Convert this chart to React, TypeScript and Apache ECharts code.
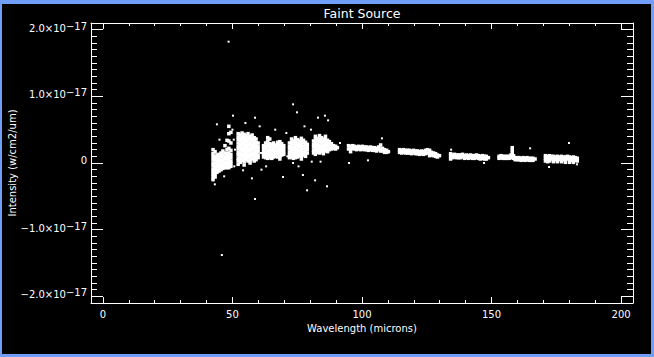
import React, { useEffect, useRef } from "react";
import * as echarts from "echarts";

// Wavelength axis (microns) and intensity axis (units of 1e-17 W/cm2/um)
const X_MIN = -4.6;
const X_MAX = 204.6;
const Y_MIN = -2.1;
const Y_MAX = 2.1;

// Tick layout
const X_TICK_MIN = 0;
const X_TICK_MAX = 200;
const X_TICK_STEP = 50;
const X_MINOR_SPLIT = 5;
const Y_TICK_MIN = -2;
const Y_TICK_MAX = 2;
const Y_TICK_STEP = 1;
const Y_MINOR_SPLIT = 10;

type Col = [number, number[]];

// Detector band columns: [wavelength, intensities at that wavelength]
const bandA: Col[] = [
  [42.5, [0.2, 0.14, 0.1, 0.05, 0.0, -0.04, -0.09, -0.13, -0.17, -0.21, -0.25]],
  [43.3, [0.17, 0.09, 0.05, 0.0, -0.05, -0.09, -0.13, -0.17, -0.21]],
  [44.0, [0.12, 0.07, 0.03, -0.02, -0.06, -0.1, -0.14]],
  [44.8, [0.13, 0.08, 0.04, -0.01, -0.05, -0.09, -0.12]],
  [45.6, [0.15, 0.11, 0.06, 0.02, -0.03, -0.07, -0.1]],
  [46.3, [0.18, 0.12, 0.08, 0.04, -0.01, -0.05, -0.08]],
  [47.1, [0.26, 0.15, 0.1, 0.06, 0.01, -0.03, -0.07]],
  [47.9, [0.34, 0.2, 0.14, 0.09, 0.05, 0.0, -0.04, -0.07]],
  [48.6, [0.55, 0.44, 0.33, 0.22, 0.15, 0.1, 0.05, 0.01, -0.04, -0.07]],
  [49.4, [0.46, 0.3, 0.19, 0.13, 0.08, 0.03, -0.01, -0.05]],
];
const bandB: Col[] = [
  [52.2, [0.44, 0.39, 0.35, 0.3, 0.25, 0.21, 0.16, 0.12, 0.07, 0.03, -0.02]],
  [53.0, [0.42, 0.37, 0.33, 0.28, 0.24, 0.2, 0.15, 0.11, 0.06, 0.01]],
  [53.7, [0.45, 0.4, 0.36, 0.31, 0.27, 0.22, 0.18, 0.13, 0.09, 0.04]],
  [54.5, [0.43, 0.38, 0.34, 0.29, 0.25, 0.2, 0.16, 0.11, 0.07, 0.02, -0.03]],
  [55.3, [0.41, 0.36, 0.32, 0.27, 0.23, 0.19, 0.14, 0.1, 0.05]],
  [56.0, [0.44, 0.39, 0.35, 0.3, 0.26, 0.21, 0.17, 0.12, 0.08, 0.03]],
  [56.8, [0.4, 0.36, 0.31, 0.27, 0.22, 0.18, 0.13, 0.09, 0.04, 0.0]],
  [57.6, [0.42, 0.37, 0.33, 0.28, 0.24, 0.2, 0.15, 0.11, 0.06]],
  [58.4, [0.38, 0.34, 0.29, 0.25, 0.21, 0.16, 0.12, 0.07, 0.03]],
  [59.1, [0.36, 0.31, 0.27, 0.23, 0.18, 0.14, 0.1, 0.05]],
  [59.9, [0.3, 0.25, 0.21, 0.17, 0.12, 0.08]],
];
const bandC: Col[] = [
  [62.0, [0.26, 0.22, 0.17, 0.13, 0.09]],
  [62.8, [0.3, 0.25, 0.21, 0.16, 0.12, 0.08]],
  [63.6, [0.38, 0.33, 0.28, 0.24, 0.19, 0.15, 0.11, 0.07]],
  [64.4, [0.36, 0.29, 0.25, 0.2, 0.16, 0.12, 0.08]],
  [65.2, [0.28, 0.24, 0.19, 0.15, 0.11, 0.07]],
  [65.9, [0.3, 0.26, 0.21, 0.17, 0.13, 0.09]],
  [66.7, [0.27, 0.23, 0.18, 0.14, 0.1]],
  [67.5, [0.31, 0.27, 0.22, 0.18, 0.14, 0.09]],
  [68.3, [0.32, 0.28, 0.23, 0.19, 0.15, 0.1, 0.06]],
  [69.0, [0.29, 0.25, 0.2, 0.16, 0.12]],
  [69.8, [0.26, 0.22, 0.17, 0.13]],
];
const bandD: Col[] = [
  [72.0, [0.3, 0.25, 0.21, 0.16, 0.12, 0.08]],
  [72.8, [0.36, 0.31, 0.27, 0.22, 0.18, 0.14, 0.09]],
  [73.5, [0.33, 0.29, 0.24, 0.2, 0.15, 0.11, 0.07]],
  [74.3, [0.38, 0.34, 0.29, 0.25, 0.2, 0.16, 0.12, 0.08]],
  [75.1, [0.35, 0.3, 0.26, 0.21, 0.17, 0.13, 0.09]],
  [75.8, [0.33, 0.28, 0.24, 0.19, 0.15, 0.11]],
  [76.6, [0.37, 0.32, 0.28, 0.23, 0.19, 0.14, 0.1, 0.06]],
  [77.4, [0.34, 0.3, 0.25, 0.21, 0.16, 0.12]],
  [78.2, [0.31, 0.27, 0.22, 0.18, 0.14, 0.1]],
  [78.9, [0.28, 0.24, 0.2, 0.15]],
];
const bandE: Col[] = [
  [81.3, [0.33, 0.28, 0.24, 0.19, 0.15]],
  [82.0, [0.4, 0.35, 0.31, 0.26, 0.22, 0.18, 0.13]],
  [82.8, [0.37, 0.33, 0.28, 0.24, 0.2, 0.16]],
  [83.6, [0.41, 0.36, 0.32, 0.27, 0.23, 0.19, 0.15]],
  [84.4, [0.38, 0.34, 0.3, 0.25, 0.21, 0.17]],
  [85.1, [0.36, 0.32, 0.27, 0.23, 0.19, 0.14]],
  [85.9, [0.4, 0.35, 0.31, 0.26, 0.22, 0.18]],
  [86.7, [0.34, 0.3, 0.26, 0.21, 0.17]],
  [87.4, [0.32, 0.28, 0.24, 0.2]],
  [88.2, [0.29, 0.25, 0.21]],
  [89.0, [0.26, 0.22]],
  [89.8, [0.25, 0.21]],
  [90.5, [0.23]],
];
const bandF: Col[] = [
  [94.8, [0.26, 0.21]], [95.6, [0.25, 0.21, 0.17]], [96.4, [0.26, 0.22]], [97.1, [0.25, 0.21]],
  [97.9, [0.24, 0.2]], [98.7, [0.25, 0.21]], [99.5, [0.24, 0.2]], [100.2, [0.25, 0.21]],
  [101.0, [0.24, 0.2]], [101.8, [0.24, 0.2]], [102.5, [0.23, 0.19]], [103.3, [0.24, 0.2]],
  [104.1, [0.23, 0.19]], [104.8, [0.23, 0.19]], [105.6, [0.22, 0.18]], [106.4, [0.24, 0.2]],
  [107.2, [0.27, 0.21, 0.18]], [107.9, [0.22, 0.18]], [108.7, [0.2, 0.16]], [109.5, [0.19, 0.16]],
  [110.2, [0.17]],
];
const bandG: Col[] = [
  [114.5, [0.2, 0.16]], [115.3, [0.19, 0.15]], [116.0, [0.2, 0.16]], [116.8, [0.19, 0.15]],
  [117.6, [0.19, 0.15]], [118.3, [0.19, 0.15]], [119.1, [0.18, 0.14]], [119.9, [0.19, 0.15]],
  [120.7, [0.18, 0.14]], [121.4, [0.18, 0.14]], [122.2, [0.17, 0.13]], [123.0, [0.18, 0.14]],
  [123.7, [0.17, 0.13]], [124.5, [0.19, 0.14]], [125.3, [0.2, 0.15]], [126.1, [0.19, 0.15, 0.11]],
  [126.8, [0.16, 0.12]], [127.6, [0.15, 0.11]], [128.4, [0.14, 0.1]], [129.1, [0.12, 0.09]],
  [129.9, [0.11]],
];
const bandH: Col[] = [
  [134.2, [0.14, 0.1, 0.06]], [135.0, [0.12, 0.08]], [135.7, [0.13, 0.09]], [136.5, [0.12, 0.08]],
  [137.3, [0.12, 0.08]], [138.0, [0.12, 0.08]], [138.8, [0.13, 0.09]], [139.6, [0.11, 0.07]],
  [140.3, [0.12, 0.08]], [141.1, [0.11, 0.07]], [141.9, [0.12, 0.08]], [142.7, [0.11, 0.07]],
  [143.4, [0.11, 0.07]], [144.2, [0.12, 0.08]], [145.0, [0.11, 0.07]], [145.7, [0.1, 0.06]],
  [146.5, [0.11, 0.07]], [147.3, [0.1, 0.06]], [148.0, [0.1, 0.06]], [148.8, [0.08]],
];
const bandI: Col[] = [
  [152.9, [0.1, 0.07]], [153.7, [0.11, 0.08]], [154.4, [0.1, 0.07]], [155.2, [0.1, 0.07]],
  [156.0, [0.1, 0.07]], [156.8, [0.1, 0.07]], [157.5, [0.12, 0.08]], [158.0, [0.23, 0.19, 0.15, 0.11]],
  [158.5, [0.11, 0.07]], [159.1, [0.08, 0.05]], [159.9, [0.08, 0.05]], [160.6, [0.08, 0.05]],
  [161.4, [0.07, 0.04]], [162.2, [0.08, 0.05]], [162.9, [0.07, 0.04]], [163.7, [0.08, 0.05]],
  [164.5, [0.07, 0.04]], [165.3, [0.07, 0.04]], [166.0, [0.07, 0.04]], [166.8, [0.06]],
];
const bandJ: Col[] = [
  [170.8, [0.11, 0.07, 0.03]], [171.6, [0.1, 0.06, 0.02]], [172.4, [0.11, 0.07, 0.03]],
  [173.1, [0.1, 0.06]], [173.9, [0.1, 0.06, 0.02]], [174.7, [0.09, 0.05]],
  [175.4, [0.1, 0.06, 0.02]], [176.2, [0.09, 0.05]], [177.0, [0.1, 0.06, 0.02]],
  [177.8, [0.09, 0.05]], [178.5, [0.09, 0.05, 0.01]], [179.3, [0.1, 0.06]],
  [180.1, [0.09, 0.05, 0.01]], [180.8, [0.08, 0.04]], [181.6, [0.09, 0.05, 0.01]],
  [182.4, [0.08, 0.04]], [183.1, [0.07, 0.03]],
];

// Isolated samples: [wavelength, intensity]
const outliers: [number, number][] = [
  [48.5, 1.82], [45.9, -1.38], [73.4, 0.88], [74.9, 0.76], [85.7, 0.71], [83.0, 0.68],
  [86.9, 0.64], [50.2, 0.71], [44.0, 0.58], [58.7, 0.68], [78.8, -0.41], [58.7, -0.54],
  [43.2, -0.32], [86.5, -0.35], [95.0, 0.0], [57.5, -0.23], [69.5, -0.21], [77.2, -0.18],
  [81.9, -0.26], [54.1, -0.11], [73.4, 0.0], [107.7, 0.37], [102.3, 0.04], [128.6, 0.14],
  [134.4, 0.2], [147.1, 0.0], [164.9, 0.22], [166.0, 0.04], [179.9, 0.3], [183.0, -0.02],
  [172.2, -0.06], [50.0, 0.5], [50.5, 0.35], [51.0, 0.2], [50.7, -0.05], [60.5, 0.55],
  [61.0, 0.15], [61.2, -0.1], [70.8, 0.45], [71.2, 0.1], [80.3, 0.5], [80.6, 0.02],
  [91.5, 0.3], [66.5, 0.5], [77.8, 0.55], [55.0, 0.6], [45.0, 0.35], [46.8, -0.2],
  [63.0, -0.05], [75.5, -0.05], [84.0, 0.02],
];

const titleText = "Faint Source";
const xName = "Wavelength (microns)";
const yName = "Intensity (w/cm2/um)";

const FONT = "DejaVu Sans";
const WHITE = "#ffffff";
const FRAME_BLUE = "#6f9df7";

// Plot frame in pixels
const W = 654;
const H = 357;
const PL = 91;
const PR = 21;
const PT = 23;
const PB = 54;

const toPoints = (cols: Col[]) => cols.flatMap(([x, vs]) => vs.map((v) => [x, v]));
const bandPoints = [bandA, bandB, bandC, bandD, bandE, bandF, bandG, bandH, bandI, bandJ].flatMap(toPoints);

export default function App() {
  const ref = useRef<HTMLDivElement>(null);
  useEffect(() => {
    if (!ref.current) return;
    const chart = echarts.init(ref.current, null, { renderer: "svg" });

    const plotW = W - PL - PR;
    const plotH = H - PT - PB;
    const xPx = (v: number) => PL + ((v - X_MIN) / (X_MAX - X_MIN)) * plotW;
    const yPx = (v: number) => PT + ((Y_MAX - v) / (Y_MAX - Y_MIN)) * plotH;

    const line = { show: true, onZero: false, lineStyle: { color: WHITE, width: 1 } };
    const hidden = { show: false };

    const frameAxis = (position: string, isX: boolean) => ({
      type: "value",
      gridIndex: 0,
      position,
      min: isX ? X_MIN : Y_MIN,
      max: isX ? X_MAX : Y_MAX,
      axisLine: line,
      axisTick: hidden,
      axisLabel: hidden,
      splitLine: hidden,
    });

    const xTickAxis = (position: string, labels: boolean) => ({
      type: "value",
      gridIndex: 1,
      position,
      min: X_TICK_MIN,
      max: X_TICK_MAX,
      interval: X_TICK_STEP,
      name: labels ? xName : "",
      nameLocation: "middle",
      nameGap: 17,
      nameTextStyle: { color: WHITE, fontSize: 10, fontFamily: FONT },
      axisLine: { show: false, onZero: false },
      axisTick: { show: true, inside: true, length: 6, lineStyle: { color: WHITE, width: 1 } },
      minorTick: { show: true, splitNumber: X_MINOR_SPLIT, length: 3, lineStyle: { color: WHITE, width: 1 } },
      axisLabel: labels
        ? { show: true, color: WHITE, fontSize: 10, fontFamily: FONT, margin: 6 }
        : hidden,
      splitLine: hidden,
    });

    const yTickAxis = (position: string, labels: boolean) => ({
      type: "value",
      gridIndex: 2,
      position,
      min: Y_TICK_MIN,
      max: Y_TICK_MAX,
      interval: Y_TICK_STEP,
      name: labels ? yName : "",
      nameLocation: "middle",
      nameGap: 74,
      nameRotate: 90,
      nameMoveOverlap: false,
      nameTextStyle: { color: WHITE, fontSize: 10, fontFamily: FONT },
      axisLine: { show: false, onZero: false },
      axisTick: { show: true, inside: true, length: 12, lineStyle: { color: WHITE, width: 1 } },
      minorTick: { show: true, splitNumber: Y_MINOR_SPLIT, length: 6, lineStyle: { color: WHITE, width: 1 } },
      axisLabel: labels
        ? {
            show: true,
            color: WHITE,
            fontSize: 10,
            fontFamily: FONT,
            margin: 4,
            padding: [0, 0, 5, 0],
            formatter: (v: number) => {
              if (Math.abs(v) < 1e-9) return "0";
              const s = (v < 0 ? "\u2212" : "") + Math.abs(v).toFixed(1);
              return `{m|${s}\u00d710}{e|\u221217}`;
            },
            rich: {
              m: { color: WHITE, fontSize: 10, fontFamily: FONT, lineHeight: 12, verticalAlign: "bottom" },
              e: { color: WHITE, fontSize: 10, fontFamily: FONT, lineHeight: 12, padding: [0, 0, 6, 0], verticalAlign: "top" },
            },
          }
        : hidden,
      splitLine: hidden,
    });

    const dummyAxis = (gridIndex: number, min: number, max: number) => ({
      type: "value",
      gridIndex,
      show: false,
      min,
      max,
    });

    const x0 = xPx(X_TICK_MIN);
    const x1 = xPx(X_TICK_MAX);
    const y0 = yPx(Y_TICK_MAX);
    const y1 = yPx(Y_TICK_MIN);

    chart.setOption({
      animation: false,
      backgroundColor: "#000000",
      textStyle: { fontFamily: FONT },
      title: {
        text: titleText,
        left: PL + plotW / 2,
        top: 7,
        textAlign: "center",
        padding: 0,
        textStyle: { color: WHITE, fontSize: 12.5, fontWeight: "normal", fontFamily: FONT },
      },
      grid: [
        { left: PL, right: PR, top: PT, bottom: PB, show: false, containLabel: false, outerBoundsMode: "none" },
        { left: x0, right: W - x1, top: PT, bottom: PB, show: false, containLabel: false, outerBoundsMode: "none" },
        { left: PL, right: PR, top: y0, bottom: H - y1, show: false, containLabel: false, outerBoundsMode: "none" },
      ],
      xAxis: [
        frameAxis("bottom", true),
        frameAxis("top", true),
        xTickAxis("bottom", true),
        xTickAxis("top", false),
        dummyAxis(2, X_MIN, X_MAX),
      ],
      yAxis: [
        frameAxis("left", false),
        frameAxis("right", false),
        dummyAxis(1, Y_MIN, Y_MAX),
        yTickAxis("left", true),
        yTickAxis("right", false),
      ],
      series: [
        {
          type: "scatter",
          xAxisIndex: 0,
          yAxisIndex: 0,
          data: bandPoints,
          symbol: "rect",
          symbolSize: 3.5,
          itemStyle: { color: WHITE, opacity: 1 },
          silent: true,
        },
        {
          type: "scatter",
          xAxisIndex: 0,
          yAxisIndex: 0,
          data: outliers,
          symbol: "rect",
          symbolSize: 2,
          itemStyle: { color: WHITE, opacity: 1 },
          silent: true,
        },
      ],
      graphic: [
        { type: "rect", shape: { x: 0, y: 0, width: W, height: 4 }, style: { fill: FRAME_BLUE }, z: 100 },
        { type: "rect", shape: { x: 0, y: 0, width: 2, height: H }, style: { fill: FRAME_BLUE }, z: 100 },
        { type: "rect", shape: { x: W - 3, y: 0, width: 3, height: H }, style: { fill: FRAME_BLUE }, z: 100 },
        { type: "rect", shape: { x: 0, y: H - 3, width: W, height: 3 }, style: { fill: FRAME_BLUE }, z: 100 },
      ],
    });
    return () => chart.dispose();
  }, []);
  return <div ref={ref} style={{ position: "fixed", left: 0, top: 0, width: W, height: H }} />;
}
